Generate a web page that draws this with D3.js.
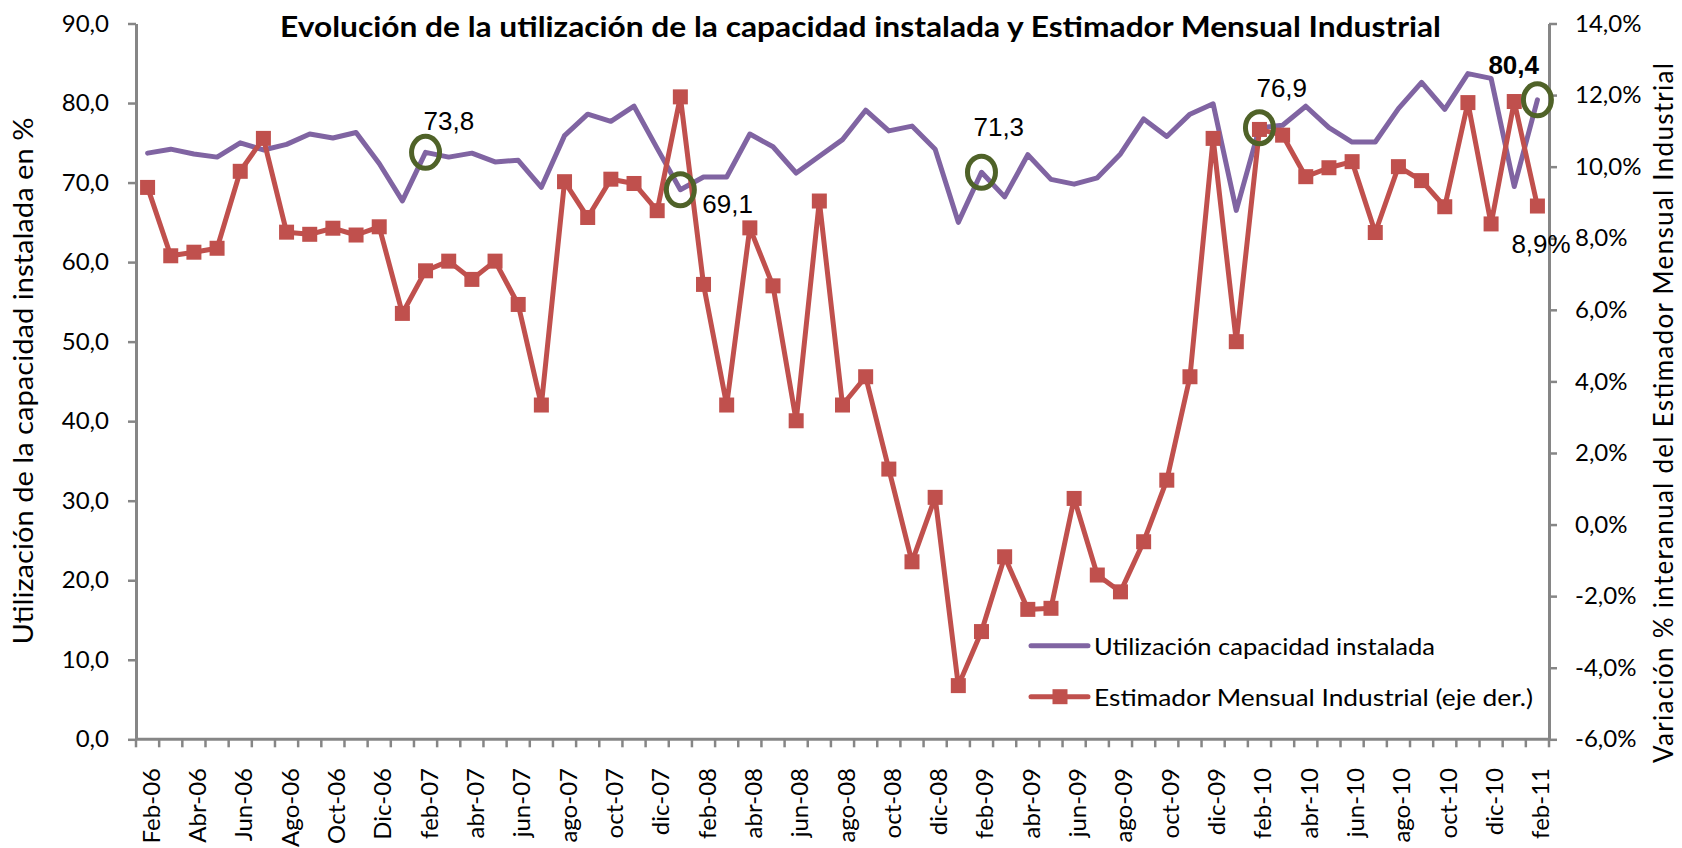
<!DOCTYPE html>
<html><head><meta charset="utf-8">
<script src="https://cdn.jsdelivr.net/npm/d3@7"></script>
<style>body{margin:0;background:#fff;} svg{display:block;}</style>
</head><body>
<svg id="c" width="1682" height="848"></svg>
<script>
const categories = [
  "Feb-06","Mar-06","Abr-06","May-06","Jun-06","Jul-06","Ago-06","Sep-06","Oct-06","Nov-06","Dic-06",
  "ene-07","feb-07","mar-07","abr-07","may-07","jun-07","jul-07","ago-07","sep-07","oct-07","nov-07","dic-07",
  "ene-08","feb-08","mar-08","abr-08","may-08","jun-08","jul-08","ago-08","sep-08","oct-08","nov-08","dic-08",
  "ene-09","feb-09","mar-09","abr-09","may-09","jun-09","jul-09","ago-09","sep-09","oct-09","nov-09","dic-09",
  "ene-10","feb-10","mar-10","abr-10","may-10","jun-10","jul-10","ago-10","sep-10","oct-10","nov-10","dic-10",
  "ene-11","feb-11"
];
const tickLabels = [
  "Feb-06","Abr-06","Jun-06","Ago-06","Oct-06","Dic-06",
  "feb-07","abr-07","jun-07","ago-07","oct-07","dic-07",
  "feb-08","abr-08","jun-08","ago-08","oct-08","dic-08",
  "feb-09","abr-09","jun-09","ago-09","oct-09","dic-09",
  "feb-10","abr-10","jun-10","ago-10","oct-10","dic-10","feb-11"
];
const utilizacion = [
  73.7,74.2,73.6,73.2,75.0,74.1,74.8,76.1,75.6,76.3,72.4,
  67.7,73.8,73.2,73.7,72.6,72.8,69.4,75.9,78.6,77.7,79.6,74.3,
  69.1,70.7,70.7,76.1,74.5,71.2,73.3,75.4,79.1,76.5,77.1,74.2,
  65.0,71.3,68.2,73.5,70.4,69.8,70.6,73.6,78.0,75.8,78.6,79.9,
  66.5,76.9,77.2,79.6,76.9,75.1,75.1,79.3,82.6,79.2,83.7,83.1,
  69.5,80.4
];
const emi = [
  9.42,7.51,7.61,7.72,9.87,10.79,8.17,8.11,8.28,8.09,8.32,
  5.90,7.09,7.36,6.85,7.36,6.15,3.34,9.58,8.58,9.65,9.53,8.77,
  11.95,6.71,3.34,8.29,6.67,2.90,9.04,3.34,4.13,1.55,-1.04,0.76,
  -4.50,-2.99,-0.90,-2.37,-2.34,0.73,-1.41,-1.88,-0.48,1.24,4.13,10.79,
  5.11,11.04,10.88,9.72,9.97,10.14,8.16,10.00,9.61,8.88,11.79,8.40,
  11.82,8.90
];
const leftTicks = [0,10,20,30,40,50,60,70,80,90];
const rightTicks = [-6,-4,-2,0,2,4,6,8,10,12,14];
const highlighted = ["feb-07","ene-08","feb-09","feb-10","feb-11"];
const seriesNames = ["Utilización capacidad instalada","Estimador Mensual Industrial (eje der.)"];
const titleText = "Evolución de la utilización de la capacidad instalada y Estimador Mensual Industrial";
const leftTitle = "Utilización de la capacidad instalada en %";
const rightTitle = "Variación % interanual del Estimador Mensual Industrial";

const svg = d3.select("#c");
const P = {left:136, right:1549, top:23.5, bottom:739.3};
const x = d3.scaleBand().domain(categories).range([P.left, P.right]).padding(0);
const yL = d3.scaleLinear().domain([0,90]).range([P.bottom, P.top]);
const yR = d3.scaleLinear().domain([-6,14]).range([P.bottom, P.top]);
const cx = c => x(c) + x.bandwidth()/2;
const loc = d3.formatLocale({decimal:",", thousands:".", grouping:[3], currency:["",""], minus:"-"});
const f1 = loc.format(".1f");
const axisColor = "#868686";
const FONT = "Lato, 'Open Sans', sans-serif";
const ARIAL = "'Liberation Sans', Arial, sans-serif";
const PURPLE = "#8064A2", RED = "#C0504D", GREEN = "#4F6228";

// Left axis
const gL = svg.append("g").attr("transform", `translate(${P.left},0)`)
  .call(d3.axisLeft(yL).tickValues(leftTicks).tickSize(8).tickSizeOuter(0).tickPadding(19).tickFormat(f1));
// Right axis
const gR = svg.append("g").attr("transform", `translate(${P.right},0)`)
  .call(d3.axisRight(yR).tickValues(rightTicks).tickSize(8).tickSizeOuter(0).tickPadding(18).tickFormat(d => f1(d) + "%"));
[gL, gR].forEach(g => {
  g.select(".domain").attr("stroke", axisColor).attr("stroke-width", 3);
  g.selectAll(".tick line").attr("stroke", axisColor).attr("stroke-width", 2.5);
  g.selectAll(".tick text").attr("font-family", FONT).attr("font-size", 24).attr("fill", "#000");
});

// Bottom axis
const gB = svg.append("g");
gB.append("line").attr("x1", P.left).attr("x2", P.right).attr("y1", yL(0)).attr("y2", yL(0))
  .attr("stroke", axisColor).attr("stroke-width", 3);
const bounds = categories.map(c => x(c)).concat([x(categories[categories.length-1]) + x.bandwidth()]);
gB.selectAll("line.tk").data(bounds).enter().append("line").attr("class","tk")
  .attr("x1", d => d).attr("x2", d => d).attr("y1", yL(0)).attr("y2", yL(0) + 8)
  .attr("stroke", axisColor).attr("stroke-width", 2.5);
gB.selectAll("text").data(tickLabels).enter().append("text")
  .attr("transform", d => `translate(${cx(d)},768) rotate(-90)`)
  .attr("text-anchor", "end").attr("dy", "12px")
  .attr("font-family", FONT).attr("font-size", 24).attr("fill", "#000")
  .text(d => d);

// Lines
const lineL = d3.line().x((d,i) => cx(categories[i])).y(d => yL(d));
const lineR = d3.line().x((d,i) => cx(categories[i])).y(d => yR(d));
svg.append("path").datum(utilizacion).attr("d", lineL).attr("fill","none")
  .attr("stroke", PURPLE).attr("stroke-width", 5).attr("stroke-linejoin","round").attr("stroke-linecap","round");
svg.append("path").datum(emi).attr("d", lineR).attr("fill","none")
  .attr("stroke", RED).attr("stroke-width", 5).attr("stroke-linejoin","round").attr("stroke-linecap","round");
const MS = 15;
svg.selectAll("rect.mk").data(emi).enter().append("rect").attr("class","mk")
  .attr("x", (d,i) => cx(categories[i]) - MS/2).attr("y", d => yR(d) - MS/2)
  .attr("width", MS).attr("height", MS).attr("fill", RED);

// Highlight circles
highlighted.forEach(c => {
  const i = categories.indexOf(c);
  svg.append("ellipse").attr("cx", cx(c)).attr("cy", yL(utilizacion[i]))
    .attr("rx", 14).attr("ry", 16).attr("fill","none").attr("stroke", GREEN).attr("stroke-width", 5);
});

// Data labels
const labelOffsets = {"feb-07":[-2,-22], "ene-08":[22,23], "feb-09":[-8,-36], "feb-10":[-3,-31], "feb-11":[-49,-26]};
highlighted.forEach(c => {
  const i = categories.indexOf(c);
  const o = labelOffsets[c];
  svg.append("text").attr("x", cx(c) + o[0]).attr("y", yL(utilizacion[i]) + o[1])
    .attr("font-family", ARIAL).attr("font-size", 26).attr("fill","#000")
    .attr("font-weight", c === "feb-11" ? "bold" : "normal")
    .text(f1(utilizacion[i]));
});
{
  const c = "feb-11", i = categories.indexOf(c);
  svg.append("text").attr("x", cx(c) - 26).attr("y", yR(emi[i]) + 47)
    .attr("font-family", ARIAL).attr("font-size", 26).attr("fill","#000")
    .text(f1(emi[i]) + "%");
}

// Title
svg.append("text").attr("x", 860.5).attr("y", 37).attr("text-anchor","middle")
  .attr("font-family", FONT).attr("font-weight","bold").attr("font-size", 28)
  .attr("textLength", 1161).attr("lengthAdjust","spacingAndGlyphs").text(titleText);

// Axis titles
svg.append("text").attr("transform","translate(33,381) rotate(-90)").attr("text-anchor","middle")
  .attr("font-family", FONT).attr("font-size", 26).attr("textLength", 527).attr("lengthAdjust","spacingAndGlyphs")
  .text(leftTitle);
svg.append("text").attr("transform","translate(1673,413) rotate(-90)").attr("text-anchor","middle")
  .attr("font-family", FONT).attr("font-size", 26).attr("textLength", 700).attr("lengthAdjust","spacing")
  .text(rightTitle);

// Legend
const lg = svg.append("g");
lg.append("line").attr("x1",1031).attr("x2",1088).attr("y1",645.7).attr("y2",645.7)
  .attr("stroke",PURPLE).attr("stroke-width",5).attr("stroke-linecap","round");
lg.append("line").attr("x1",1031).attr("x2",1088).attr("y1",696.7).attr("y2",696.7)
  .attr("stroke",RED).attr("stroke-width",5).attr("stroke-linecap","round");
lg.append("rect").attr("x",1060-MS/2).attr("y",696.7-MS/2).attr("width",MS).attr("height",MS).attr("fill",RED);
lg.append("text").attr("x",1094).attr("y",655).attr("font-family",FONT).attr("font-size",24)
  .attr("textLength",341).attr("lengthAdjust","spacingAndGlyphs").text(seriesNames[0]);
lg.append("text").attr("x",1094).attr("y",706).attr("font-family",FONT).attr("font-size",24)
  .attr("textLength",439).attr("lengthAdjust","spacingAndGlyphs").text(seriesNames[1]);
</script>
</body></html>
